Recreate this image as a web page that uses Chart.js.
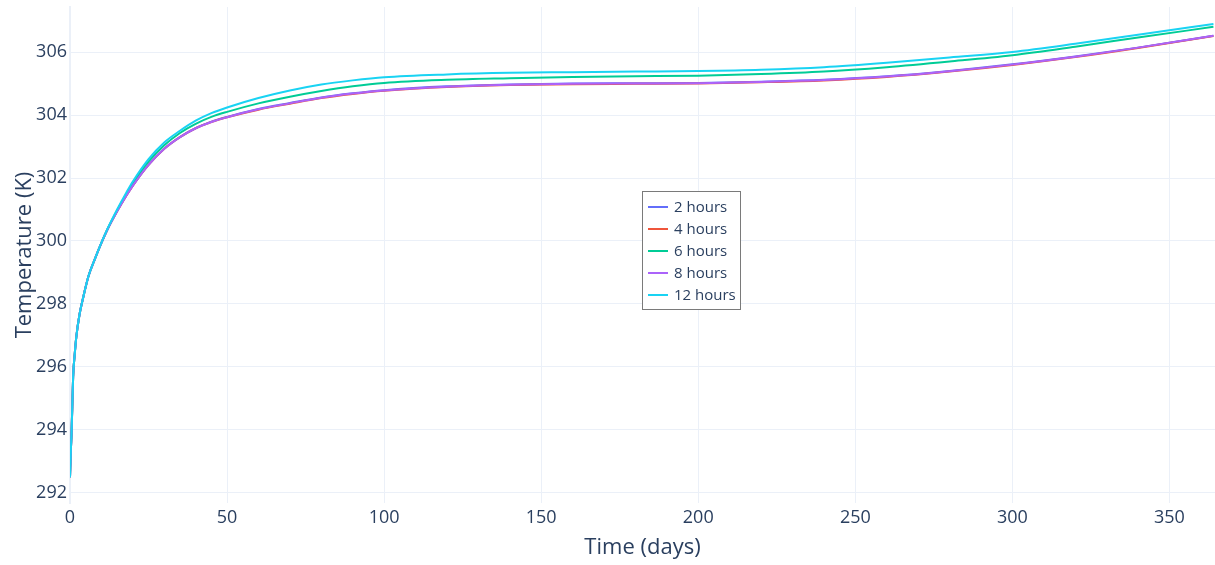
<!DOCTYPE html>
<html>
<head>
<meta charset="utf-8">
<title>Temperature vs time</title>
<script src="https://cdn.jsdelivr.net/npm/chart.js@4.4.1/dist/chart.umd.min.js"></script>
<style>
  html, body { margin: 0; padding: 0; background: #ffffff; }
  #wrap { position: relative; width: 1215px; height: 565px; }
</style>
</head>
<body>
<div id="wrap"><canvas id="chart" width="1215" height="565"></canvas></div>
<script>
// Simulation time in days
const days = [0, 0.25, 0.5, 1, 1.5, 2, 3, 4, 5, 6, 8, 10, 12, 15, 18, 20, 25, 30, 35, 40, 45,
  50, 60, 70, 80, 90, 100, 120, 140, 160, 180, 200, 220, 240, 260, 280, 300, 320, 340, 364];

// Temperature (K) for each time step
const temp2h = [292.5, 293.3, 293.9, 295.7, 296.4, 296.95, 297.65, 298.12, 298.55, 298.92, 299.45, 299.94, 300.38, 300.94, 301.45, 301.76, 302.42, 302.93, 303.3, 303.58, 303.79,
  303.94, 304.19, 304.38, 304.56, 304.69, 304.79, 304.91, 304.97, 305.0, 305.01, 305.02, 305.06, 305.12, 305.23, 305.40, 305.61, 305.86, 306.14, 306.52];
const temp4h = [292.5, 293.3, 293.9, 295.7, 296.4, 296.95, 297.65, 298.12, 298.55, 298.92, 299.45, 299.94, 300.38, 300.94, 301.45, 301.76, 302.42, 302.93, 303.3, 303.58, 303.78,
  303.93, 304.17, 304.36, 304.54, 304.67, 304.77, 304.89, 304.95, 304.98, 304.99, 305.0, 305.04, 305.10, 305.21, 305.38, 305.59, 305.84, 306.13, 306.51];
const temp6h = [292.5, 293.3, 293.9, 295.7, 296.4, 296.95, 297.65, 298.12, 298.55, 298.92, 299.45, 299.94, 300.39, 300.97, 301.5, 301.83, 302.52, 303.04, 303.43, 303.72, 303.94,
  304.1, 304.37, 304.58, 304.76, 304.91, 305.02, 305.12, 305.17, 305.21, 305.23, 305.25, 305.3, 305.38, 305.52, 305.7, 305.9, 306.17, 306.46, 306.8];
const temp8h = [292.5, 293.3, 293.9, 295.7, 296.4, 296.95, 297.65, 298.12, 298.55, 298.92, 299.45, 299.94, 300.38, 300.94, 301.45, 301.76, 302.42, 302.93, 303.3, 303.58, 303.78,
  303.93, 304.18, 304.37, 304.55, 304.68, 304.78, 304.9, 304.96, 304.99, 305.0, 305.01, 305.05, 305.11, 305.22, 305.39, 305.6, 305.85, 306.14, 306.52];
const temp12h = [292.5, 293.3, 293.9, 295.7, 296.4, 296.95, 297.65, 298.12, 298.55, 298.92, 299.45, 299.95, 300.4, 301.0, 301.55, 301.89, 302.6, 303.13, 303.5, 303.82, 304.06,
  304.24, 304.54, 304.78, 304.97, 305.1, 305.2, 305.29, 305.34, 305.36, 305.38, 305.4, 305.44, 305.52, 305.66, 305.83, 306.0, 306.26, 306.55, 306.89];

const seriesLabels = ['2 hours', '4 hours', '6 hours', '8 hours', '12 hours'];
const seriesValues = [temp2h, temp4h, temp6h, temp8h, temp12h];
const seriesColors = ['#636efa', '#EF553B', '#00cc96', '#ab63fa', '#19d3f3'];

const xTickValues = [0, 50, 100, 150, 200, 250, 300, 350];
const yTickValues = [292, 294, 296, 298, 300, 302, 304, 306];

const textColor = '#2a3f5f';
const gridColor = '#ebf0f8';
const fontFamily = "'Open Sans', 'Noto Sans', sans-serif";

Chart.defaults.font.family = fontFamily;
Chart.defaults.color = textColor;

const datasets = seriesValues.map((vals, i) => ({
  label: seriesLabels[i],
  data: days.map((d, k) => ({ x: d, y: vals[k] })),
  borderColor: seriesColors[i],
  backgroundColor: seriesColors[i],
  borderWidth: 2,
  pointRadius: 0,
  fill: false,
  cubicInterpolationMode: 'monotone',
  order: seriesValues.length - 1 - i
}));

// Legend box drawn inside the plot area
const boxLegend = {
  id: 'boxLegend',
  afterDraw(chart) {
    const ctx = chart.ctx;
    const x0 = 642.5, y0 = 191.5, w = 98, h = 118;
    ctx.save();
    ctx.fillStyle = '#ffffff';
    ctx.fillRect(x0, y0, w, h);
    ctx.strokeStyle = '#7a7a7a';
    ctx.lineWidth = 1;
    ctx.strokeRect(x0, y0, w, h);
    ctx.font = '15px ' + fontFamily;
    ctx.textBaseline = 'middle';
    ctx.textAlign = 'left';
    chart.data.datasets.forEach((ds, i) => {
      const cy = 207 + i * 22;
      ctx.strokeStyle = ds.borderColor;
      ctx.lineWidth = 2;
      ctx.beginPath();
      ctx.moveTo(648, cy);
      ctx.lineTo(668, cy);
      ctx.stroke();
      ctx.fillStyle = textColor;
      ctx.fillText(ds.label, 674, cy + 1);
    });
    ctx.restore();
  }
};

new Chart(document.getElementById('chart'), {
  type: 'line',
  data: { datasets },
  options: {
    responsive: false,
    animation: false,
    events: [],
    layout: { padding: { top: 7, right: 0, bottom: 0, left: 0 } },
    plugins: {
      legend: { display: false },
      tooltip: { enabled: false }
    },
    scales: {
      x: {
        type: 'linear',
        min: 0,
        max: 364.5,
        afterBuildTicks: s => { s.ticks = xTickValues.map(v => ({ value: v })); },
        afterFit: s => { s.height = 62; s.paddingLeft = 0; s.paddingRight = 0; },
        grid: { color: gridColor, lineWidth: 1, drawTicks: false },
        border: { display: false },
        ticks: { font: { size: 18 }, color: textColor, padding: 4, maxRotation: 0 },
        title: {
          display: true,
          text: 'Time (days)',
          font: { size: 22 },
          color: textColor,
          padding: { top: 0, bottom: 4 }
        }
      },
      y: {
        type: 'linear',
        min: 291.68,
        max: 307.43,
        afterBuildTicks: s => { s.ticks = yTickValues.map(v => ({ value: v })); },
        afterFit: s => { s.width = 70; s.paddingTop = 0; s.paddingBottom = 0; },
        grid: { color: gridColor, lineWidth: 1, drawTicks: false },
        border: { display: true, color: gridColor, width: 2 },
        ticks: { font: { size: 18 }, color: textColor, padding: 3 },
        title: {
          display: true,
          text: 'Temperature (K)',
          font: { size: 22 },
          color: textColor,
          padding: { top: 12, bottom: 0 }
        }
      }
    }
  },
  plugins: [boxLegend]
});
</script>
</body>
</html>
